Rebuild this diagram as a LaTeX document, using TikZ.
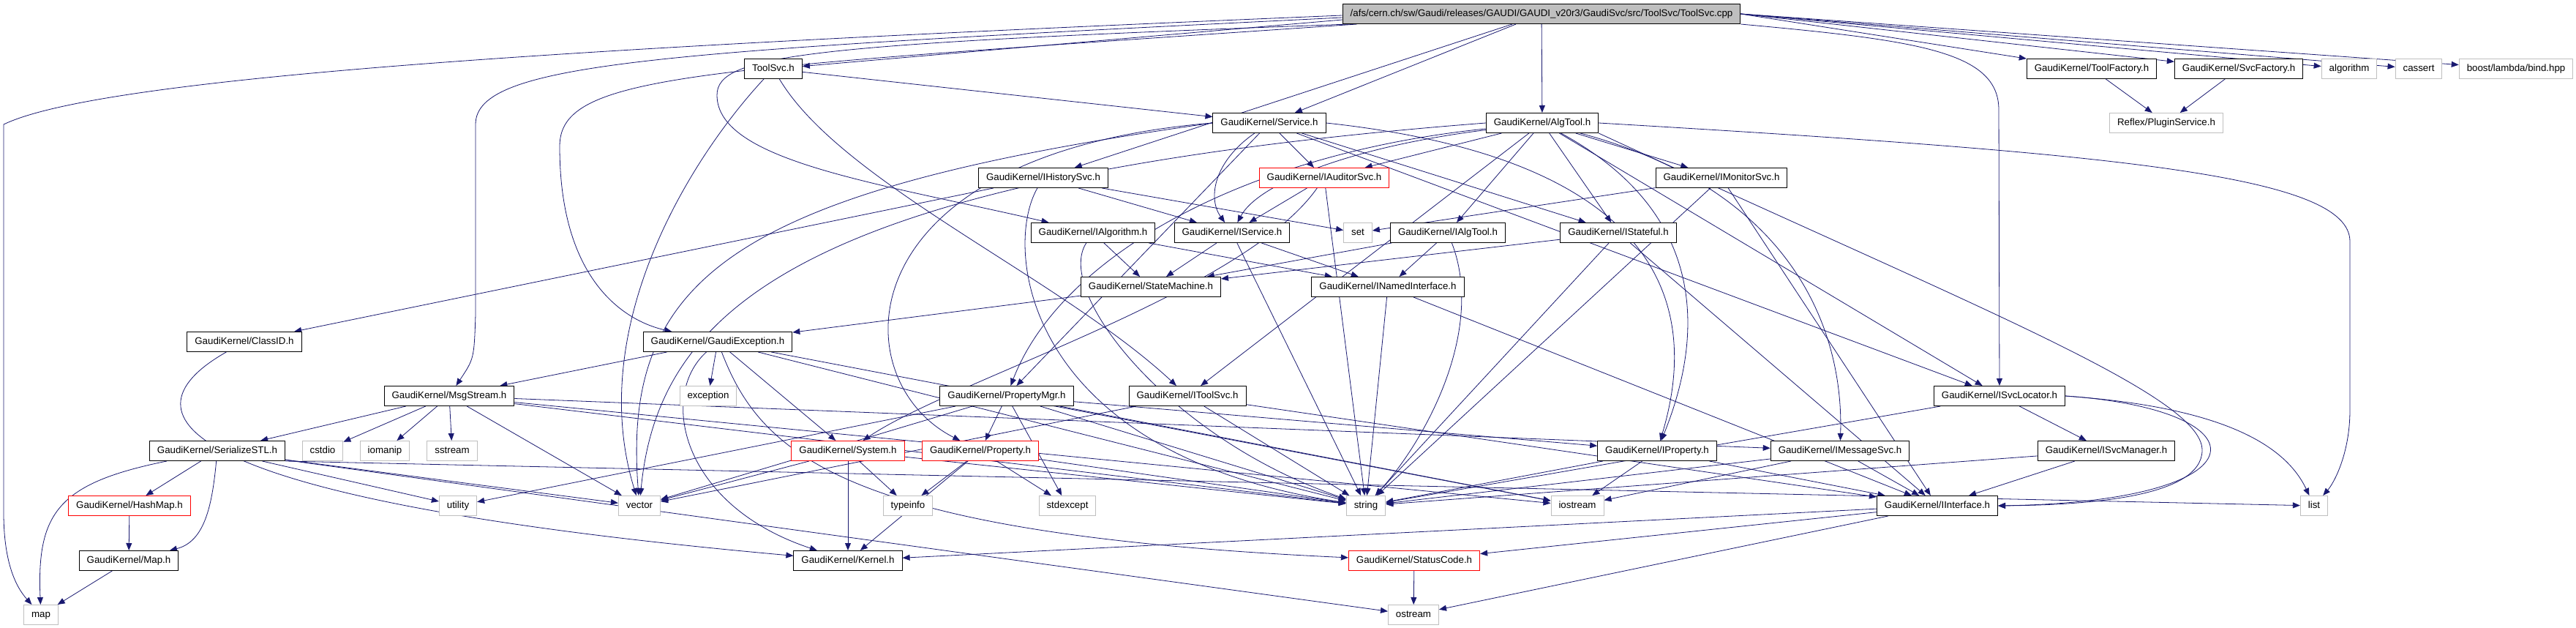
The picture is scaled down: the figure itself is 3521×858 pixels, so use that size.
\documentclass[tikz,border=0pt]{standalone}
\usepackage{fontspec}
\setmainfont{Liberation Sans}
\usepackage{xcolor}
\usepackage{tikz}
\usetikzlibrary{arrows.meta}
\definecolor{midnight}{HTML}{191970}
\definecolor{sysgray}{HTML}{BFBFBF}
\pgfdeclarelayer{background}
\pgfsetlayers{background,main}

\begin{document}
\begin{tikzpicture}[
    x=1pt, y=-1pt,
    every node/.style={
      font=\fontsize{13.3}{16}\selectfont, inner xsep=10.5pt, inner ysep=0pt,
      minimum height=27pt, text height=10pt, text depth=3pt, line width=1pt
    },
    box/.style={draw=black, fill=white},
    sysbox/.style={draw=sysgray, fill=white},
    redbox/.style={draw=red, fill=white},
    rootbox/.style={draw=black, fill=sysgray},
    arrow/.style={-{Triangle[length=10pt,width=8pt]},draw=midnight,line width=0.8pt}
  ]
    \useasboundingbox (0,0) rectangle (3521,858);

    \node[rootbox] (root) at (2107,19) {/afs/cern.ch/sw/Gaudi/releases/GAUDI/GAUDI\_v20r3/GaudiSvc/src/ToolSvc/ToolSvc.cpp};

    \node[box] (toolsvch) at (1057,94) {ToolSvc.h};
    \node[box] (toolfac) at (2859,94) {GaudiKernel/ToolFactory.h};
    \node[box] (svcfac) at (3060,94) {GaudiKernel/SvcFactory.h};
    \node[sysbox] (algorithm) at (3211,94) {algorithm};
    \node[sysbox] (cassert) at (3306,94) {cassert};
    \node[sysbox] (bind) at (3439,94) {boost/lambda/bind.hpp};

    \node[box] (service) at (1735,168) {GaudiKernel/Service.h};
    \node[box] (algtool) at (2108,168) {GaudiKernel/AlgTool.h};
    \node[sysbox] (plugin) at (2961,168) {Reflex/PluginService.h};

    \node[box] (ihist) at (1426,243) {GaudiKernel/IHistorySvc.h};
    \node[redbox] (iaud) at (1810,243) {GaudiKernel/IAuditorSvc.h};
    \node[box] (imon) at (2353,243) {GaudiKernel/IMonitorSvc.h};

    \node[box] (ialg) at (1494,318) {GaudiKernel/IAlgorithm.h};
    \node[box] (iserv) at (1684,318) {GaudiKernel/IService.h};
    \node[sysbox] (set) at (1856,318) {set};
    \node[box] (ialgtool) at (1979,318) {GaudiKernel/IAlgTool.h};
    \node[box] (istate) at (2212,318) {GaudiKernel/IStateful.h};

    \node[box] (statem) at (1573,392) {GaudiKernel/StateMachine.h};
    \node[box] (inamed) at (1897,392) {GaudiKernel/INamedInterface.h};

    \node[box] (classid) at (334,467) {GaudiKernel/ClassID.h};
    \node[box] (gexc) at (981,467) {GaudiKernel/GaudiException.h};

    \node[box] (msgs) at (614,541) {GaudiKernel/MsgStream.h};
    \node[sysbox] (exception) at (968,541) {exception};
    \node[box] (propmgr) at (1376,541) {GaudiKernel/PropertyMgr.h};
    \node[box] (itoolsvc) at (1623,541) {GaudiKernel/IToolSvc.h};
    \node[box] (isvcloc) at (2733,541) {GaudiKernel/ISvcLocator.h};

    \node[box] (serstl) at (297,616) {GaudiKernel/SerializeSTL.h};
    \node[sysbox] (cstdio) at (441,616) {cstdio};
    \node[sysbox] (iomanip) at (526,616) {iomanip};
    \node[sysbox] (sstream) at (618,616) {sstream};
    \node[redbox] (system) at (1159,616) {GaudiKernel/System.h};
    \node[redbox] (property) at (1340,616) {GaudiKernel/Property.h};
    \node[box] (iprop) at (2265,616) {GaudiKernel/IProperty.h};
    \node[box] (imsg) at (2515,616) {GaudiKernel/IMessageSvc.h};
    \node[box] (isvcmgr) at (2879,616) {GaudiKernel/ISvcManager.h};

    \node[redbox] (hashmap) at (177,691) {GaudiKernel/HashMap.h};
    \node[sysbox] (utility) at (626,691) {utility};
    \node[sysbox] (vector) at (874,691) {vector};
    \node[sysbox] (typeinfo) at (1241,691) {typeinfo};
    \node[sysbox] (stdexcept) at (1459,691) {stdexcept};
    \node[sysbox] (string) at (1867,691) {string};
    \node[sysbox] (iostream) at (2156,691) {iostream};
    \node[box] (iintf) at (2648,691) {GaudiKernel/IInterface.h};
    \node[sysbox] (list) at (3163,691) {list};

    \node[box] (maph) at (176,766) {GaudiKernel/Map.h};
    \node[box] (kernel) at (1159,766) {GaudiKernel/Kernel.h};
    \node[redbox] (statcode) at (1933,766) {GaudiKernel/StatusCode.h};

    \node[sysbox] (map) at (56,840) {map};
    \node[sysbox] (ostream) at (1932,840) {ostream};

    \begin{pgfonlayer}{background}
    \draw[arrow] ([yshift=-2pt]root.west) .. controls (900,60) and (150,100) .. (5,170) -- (5,700) .. controls (5,765) and (20,800) .. (map);
    \draw[arrow] ([yshift=-8pt]root.west) -- (toolsvch);
    \draw[arrow] (root) -- (service);
    \draw[arrow] ([xshift=-40pt]root.south) -- (ihist);
    \draw[arrow] (root) -- (algtool);
    \draw[arrow] ([yshift=-5pt]root.west) .. controls (900,70) and (650,85) .. (650,170) -- (650,430) .. controls (648,490) .. (msgs);
    \draw[arrow] ([xshift=20pt]root.south west) .. controls (950,95) and (765,100) .. (765,200) .. controls (765,390) and (860,440) .. (gexc);
    \draw[arrow] ([xshift=10pt]root.south west) .. controls (1100,60) and (980,75) .. (980,130) .. controls (980,220) and (1200,250) .. (ialg);
    \draw[arrow] (root.south east) .. controls (2620,55) and (2732,70) .. (2732,150) -- (isvcloc);
    \draw[arrow] (root.east) -- (toolfac);
    \draw[arrow] (root.east) -- (svcfac);
    \draw[arrow] (root.east) -- (algorithm);
    \draw[arrow] (root.east) -- (cassert);
    \draw[arrow] (root.east) -- (bind);

    \draw[arrow] (toolsvch) -- (service);
    \draw[arrow] (toolsvch) .. controls (940,220) and (800,450) .. (vector);
    \draw[arrow] (toolsvch) .. controls (1150,250) and (1450,380) .. (itoolsvc);
    \draw[arrow] (toolfac) -- (plugin);
    \draw[arrow] (svcfac) -- (plugin);

    \draw[arrow] (service) .. controls (1660,220) and (1650,270) .. (iserv);
    \draw[arrow] (service) -- (iaud);
    \draw[arrow] (service) -- (istate);
    \draw[arrow] (service) -- (propmgr);
    \draw[arrow] (service.west) .. controls (1150,210) and (1150,520) .. (property);
    \draw[arrow] (service.east) .. controls (2250,215) and (2330,400) .. (iprop);
    \draw[arrow] (service) -- (isvcloc);
    \draw[arrow] (service.west) .. controls (1000,260) and (850,380) .. (vector);

    \draw[arrow] (algtool) -- (ialgtool);
    \draw[arrow] (algtool) -- (imon);
    \draw[arrow] (algtool) -- (istate);
    \draw[arrow] (algtool) -- (iaud);
    \draw[arrow] (algtool) .. controls (1850,200) and (1720,250) .. (iserv);
    \draw[arrow] (algtool) .. controls (1700,210) and (1450,350) .. (propmgr);
    \draw[arrow] (algtool) -- (itoolsvc);
    \draw[arrow] (algtool) .. controls (2350,300) and (2320,480) .. (iprop);
    \draw[arrow] (algtool) -- (isvcloc);
    \draw[arrow] (algtool) .. controls (2450,260) and (2520,450) .. (imsg);
    \draw[arrow] (algtool.east) .. controls (2900,210) and (3212,240) .. (3212,330) -- (3212,560) .. controls (3212,620) and (3190,660) .. (list);
    \draw[arrow] (algtool.west) .. controls (1100,240) and (900,420) .. (vector);
    \draw[arrow] (algtool.south east) .. controls (2700,420) and (3010,540) .. (3010,615) .. controls (3010,680) and (2850,690) .. (iintf.east);

    \draw[arrow] (ihist) -- (iserv);
    \draw[arrow] (ihist) -- (set);
    \draw[arrow] (ihist) -- (classid);
    \draw[arrow] (ihist) .. controls (1370,340) and (1400,620) .. (string);
    \draw[arrow] (iaud) -- (iserv);
    \draw[arrow] (iaud) .. controls (1700,400) and (1300,520) .. (system);
    \draw[arrow] (iaud) -- (string);
    \draw[arrow] (imon) -- (set);
    \draw[arrow] (imon) -- (string);
    \draw[arrow] (imon) -- (iintf);

    \draw[arrow] (ialg) -- (statem);
    \draw[arrow] (ialg) -- (inamed);
    \draw[arrow] (ialg) .. controls (1440,400) and (1600,600) .. (string);
    \draw[arrow] (iserv) -- (statem);
    \draw[arrow] (iserv) -- (inamed);
    \draw[arrow] (iserv) -- (string);
    \draw[arrow] (ialgtool) -- (statem);
    \draw[arrow] (ialgtool) -- (inamed);
    \draw[arrow] (ialgtool) .. controls (2030,450) and (1950,600) .. (string);
    \draw[arrow] (istate) -- (statem);
    \draw[arrow] (istate) -- (string);
    \draw[arrow] (istate) -- (iintf);
    \draw[arrow] (statem) -- (gexc);
    \draw[arrow] (inamed) -- (string);
    \draw[arrow] (inamed) -- (iintf);

    \draw[arrow] (classid) .. controls (170,560) and (200,680) .. (kernel);
    \draw[arrow] (gexc) -- (msgs);
    \draw[arrow] (gexc) -- (exception);
    \draw[arrow] (gexc) .. controls (900,540) and (930,690) .. (kernel);
    \draw[arrow] (gexc) -- (system);
    \draw[arrow] (gexc) .. controls (1040,620) and (1150,730) .. (statcode);
    \draw[arrow] (gexc) -- (string);
    \draw[arrow] (gexc) -- (iostream);

    \draw[arrow] (msgs) -- (serstl);
    \draw[arrow] (msgs) -- (cstdio);
    \draw[arrow] (msgs) -- (iomanip);
    \draw[arrow] (msgs) -- (sstream);
    \draw[arrow] (msgs) -- (vector);
    \draw[arrow] (msgs) -- (string);
    \draw[arrow] (msgs) -- (imsg);
    \draw[arrow] (msgs) -- (iostream);

    \draw[arrow] (propmgr) -- (property);
    \draw[arrow] (propmgr) -- (stdexcept);
    \draw[arrow] (propmgr) -- (iprop);
    \draw[arrow] (propmgr) -- (string);
    \draw[arrow] (propmgr) -- (vector);
    \draw[arrow] (propmgr) -- (utility);
    \draw[arrow] (propmgr) -- (iostream);
    \draw[arrow] (itoolsvc) -- (string);
    \draw[arrow] (itoolsvc) -- (iintf);
    \draw[arrow] (itoolsvc) -- (vector);
    \draw[arrow] (isvcloc) -- (isvcmgr);
    \draw[arrow] (isvcloc.east) .. controls (3020,555) and (3120,600) .. (list);
    \draw[arrow] (isvcloc.east) .. controls (3100,560) and (3100,685) .. (iintf.east);
    \draw[arrow] (isvcloc) -- (string);

    \draw[arrow] (serstl) .. controls (80,660) and (50,700) .. (map);
    \draw[arrow] (serstl) -- (hashmap);
    \draw[arrow] (serstl) .. controls (290,690) and (280,740) .. (maph);
    \draw[arrow] (serstl) -- (ostream);
    \draw[arrow] (serstl) -- (utility);
    \draw[arrow] (serstl) -- (vector);
    \draw[arrow] (serstl.south east) -- (list);
    \draw[arrow] (system) -- (typeinfo);
    \draw[arrow] (system) -- (vector);
    \draw[arrow] (system) -- (kernel);
    \draw[arrow] (system) -- (string);
    \draw[arrow] (property) -- (typeinfo);
    \draw[arrow] (property) -- (stdexcept);
    \draw[arrow] (property) -- (kernel);
    \draw[arrow] (property) -- (string);
    \draw[arrow] (iprop) -- (string);
    \draw[arrow] (iprop) -- (iostream);
    \draw[arrow] (iprop) -- (iintf);
    \draw[arrow] (imsg) -- (string);
    \draw[arrow] (imsg) -- (iintf);
    \draw[arrow] (imsg) -- (iostream);
    \draw[arrow] (isvcmgr) -- (string);
    \draw[arrow] (isvcmgr) -- (iintf);

    \draw[arrow] (hashmap) -- (maph);
    \draw[arrow] (maph) -- (map);
    \draw[arrow] (iintf) -- (kernel);
    \draw[arrow] (iintf) -- (statcode);
    \draw[arrow] (iintf) -- (ostream);
    \draw[arrow] (statcode) -- (ostream);
    \end{pgfonlayer}
  \end{tikzpicture}
\end{document}
